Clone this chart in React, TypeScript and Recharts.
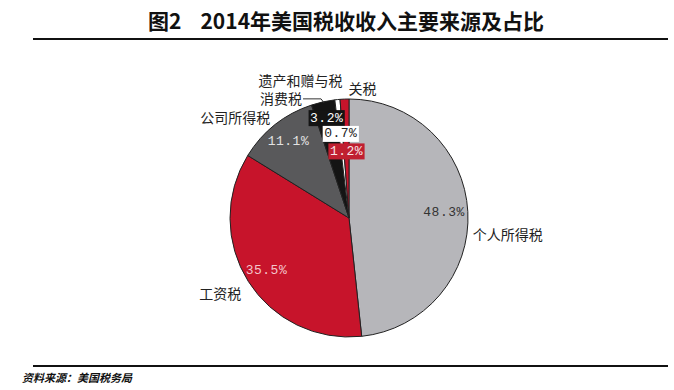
import React from "react";
import { PieChart, Pie, Cell } from "recharts";

// 2014年美国税收收入主要来源及占比 (%)
const categories = ["个人所得税", "工资税", "公司所得税", "消费税", "遗产和赠与税", "关税"];
const shares = [48.3, 35.5, 11.1, 3.2, 0.7, 1.2];

const sliceColors = ["#b6b6ba", "#c7142b", "#59595b", "#141414", "#ffffff", "#c7142b"];

// label styling per slice: pct radius factor, pct colours, name offset from the arc midpoint
const labelStyle: Record<
  string,
  { pr: number; color: string; bg?: string; dx: number; dy: number; anchor: "start" | "end"; leader?: boolean }
> = {
  个人所得税: { pr: 0.8, color: "#333333", dx: 5, dy: 22, anchor: "start" },
  工资税: { pr: 0.82, color: "#f4c6cc", dx: -7, dy: 12, anchor: "end" },
  公司所得税: { pr: 0.82, color: "#e2e2e2", dx: -5, dy: -8, anchor: "end" },
  消费税: { pr: 0.86, color: "#ffffff", bg: "#141414", dx: -21, dy: -4, anchor: "end", leader: true },
  遗产和赠与税: { pr: 0.71, color: "#222222", bg: "#ffffff", dx: 5, dy: -20, anchor: "end" },
  关税: { pr: 0.56, color: "#f8e4e6", bg: "#c01f30", dx: 4, dy: -11, anchor: "start" },
};

const data = categories.map((name, i) => ({ name, value: shares[i] }));

const RADIAN = Math.PI / 180;
const PCT_FONT = "'Liberation Mono', 'DejaVu Sans Mono', monospace";
const CJK_FONT = "'Noto Sans CJK SC', 'Noto Sans', sans-serif";

const renderLabel = (props: any) => {
  const { cx, cy, midAngle, outerRadius, index } = props;
  const name = categories[index];
  const st = labelStyle[name];
  const cos = Math.cos(-midAngle * RADIAN);
  const sin = Math.sin(-midAngle * RADIAN);
  const ax = cx + outerRadius * cos;
  const ay = cy + outerRadius * sin;
  const px = cx + outerRadius * st.pr * cos;
  const py = cy + outerRadius * st.pr * sin;
  const pct = `${shares[index].toFixed(1)}%`;
  const boxW = pct.length * 8.3 + 3;
  return (
    <g>
      {st.bg && <rect x={px - boxW / 2} y={py - 8} width={boxW} height={16} fill={st.bg} />}
      <text
        x={px}
        y={py}
        fill={st.color}
        textAnchor="middle"
        dominantBaseline="central"
        fontFamily={PCT_FONT}
        fontSize={13}
        letterSpacing={0.5}
      >
        {pct}
      </text>
      {st.leader && (
        <path
          d={`M${ax + 1},${ay + 1} L${ax - 2},${ay - 3} L${ax + st.dx + 1},${ay - 3}`}
          stroke="#333"
          strokeWidth={1}
          fill="none"
        />
      )}
      <text
        x={ax + st.dx}
        y={ay + st.dy}
        fill="#222222"
        textAnchor={st.anchor}
        dominantBaseline="central"
        fontFamily={CJK_FONT}
        fontSize={14}
      >
        {name}
      </text>
    </g>
  );
};

export default function App() {
  return (
    <div
      style={{
        position: "absolute",
        left: 0,
        top: 0,
        width: 674,
        height: 390,
        background: "#ffffff",
        fontFamily: CJK_FONT,
        overflow: "hidden",
      }}
    >
      <div
        style={{
          position: "absolute",
          left: 148,
          top: 6,
          fontSize: 21,
          fontWeight: 700,
          color: "#111",
          whiteSpace: "pre",
          lineHeight: "28px",
        }}
      >
        {"图2    2014年美国税收收入主要来源及占比"}
      </div>
      <div style={{ position: "absolute", left: 33, top: 38, width: 635, height: 2, background: "#111" }} />
      <div style={{ position: "absolute", left: 0, top: 0 }}>
        <PieChart width={674} height={390}>
          <Pie
            data={data}
            dataKey="value"
            nameKey="name"
            cx={344}
            cy={213}
            outerRadius={119}
            startAngle={90}
            endAngle={-270}
            stroke="#222"
            strokeWidth={1}
            label={renderLabel}
            labelLine={false}
            isAnimationActive={false}
          >
            {data.map((d, i) => (
              <Cell key={d.name} fill={sliceColors[i]} />
            ))}
          </Pie>
        </PieChart>
      </div>
      <div style={{ position: "absolute", left: 33, top: 365, width: 635, height: 2, background: "#111" }} />
      <div
        style={{
          position: "absolute",
          left: 22,
          top: 369,
          fontSize: 11,
          fontWeight: 700,
          fontStyle: "italic",
          color: "#111",
          lineHeight: "16px",
        }}
      >
        资料来源：美国税务局
      </div>
    </div>
  );
}
